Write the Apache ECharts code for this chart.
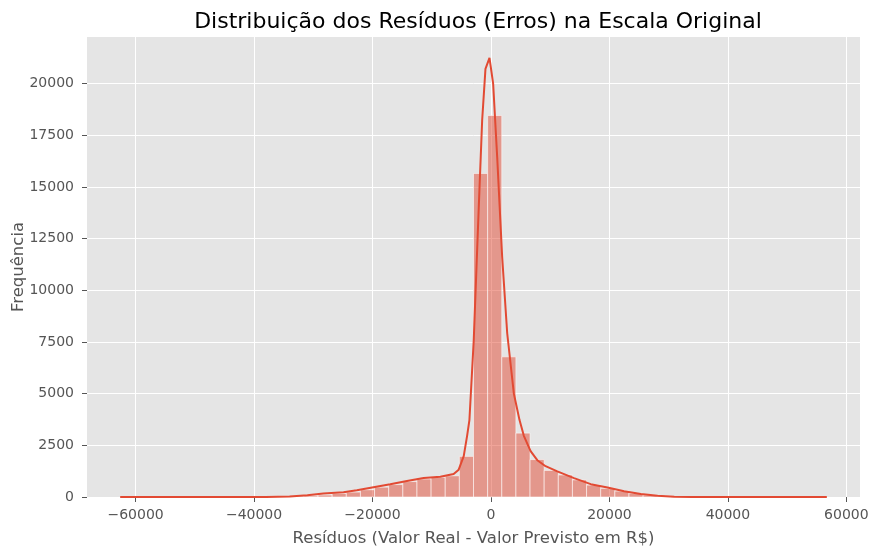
<!DOCTYPE html>
<html>
<head>
<meta charset="utf-8">
<script src="https://cdn.jsdelivr.net/npm/echarts@6/dist/echarts.min.js"></script>
<style>
  html, body { margin: 0; padding: 0; background: #fff; }
  #chart { width: 879px; height: 553px; }
</style>
</head>
<body>
<div id="chart"></div>
<script>
// histograma dos resíduos: 50 bins
const histMin = -62600;
const binWidth = 2386;
const counts = [
  0, 0, 0, 0, 0, 1, 1, 2, 3, 5,
  10, 18, 35, 55, 95, 170, 238, 350, 475, 600,
  745, 870, 952, 1025, 1965, 15650, 18450, 6780, 3090, 1810,
  1285, 1065, 828, 575, 418, 287, 180, 92, 35, 15,
  7, 3, 2, 1, 1, 0, 0, 0, 0, 1
];

// curva KDE
const kdeX = [
  -62600, -50000, -42000, -38000, -34000, -31000, -28300, -24900, -22650, -19830,
  -17010, -14190, -11370, -8550, -6300, -5450, -4600, -4030, -3640, -2910,
  -2060, -1490, -930, -250, 370, 1050, 1890, 2740, 3860, 4820,
  5550, 6690, 7820, 9220, 11200, 14020, 16840, 19670, 22480, 25300,
  28130, 30940, 34000, 40000, 56700
];
const kdeY = [
  0, 0, 1, 5, 30, 90, 165, 230, 330, 475,
  620, 770, 915, 980, 1110, 1320, 1980, 2960, 3720, 7585,
  14020, 18210, 20710, 21240, 19980, 16440, 11610, 7920, 5010, 3720,
  2960, 2220, 1780, 1490, 1240, 915, 620, 460, 280, 147,
  65, 16, 5, 1, 0
];

const xTicks = [-60000, -40000, -20000, 0, 20000, 40000, 60000];
const yTicks = [0, 2500, 5000, 7500, 10000, 12500, 15000, 17500, 20000];

const barData = counts.map((c, i) => [histMin + i * binWidth, histMin + (i + 1) * binWidth, c]);
const kdeData = kdeX.map((x, i) => [x, kdeY[i]]);

const chart = echarts.init(document.getElementById('chart'));

const tickText = { color: '#555555', fontSize: 14, fontFamily: 'DejaVu Sans' };
const nameText = { color: '#555555', fontSize: 16.5, fontFamily: 'DejaVu Sans' };

chart.setOption({
  animation: false,
  backgroundColor: '#ffffff',
  title: {
    text: 'Distribuição dos Resíduos (Erros) na Escala Original',
    left: 473, textAlign: 'center', top: 6,
    textStyle: { fontFamily: 'DejaVu Sans', fontSize: 22, fontWeight: 'normal', color: '#000' }
  },
  grid: {
    left: 87, right: 19, top: 37, bottom: 56,
    containLabel: false, outerBoundsMode: 'none',
    show: true, backgroundColor: '#E5E5E5', borderWidth: 0
  },
  xAxis: {
    type: 'value', min: -68200, max: 62300,
    name: 'Resíduos (Valor Real - Valor Previsto em R$)',
    nameLocation: 'middle', nameGap: 33, nameMoveOverlap: false,
    nameTextStyle: nameText,
    axisLine: { show: false, onZero: false },
    axisTick: { show: true, customValues: xTicks, length: 5, lineStyle: { color: '#555555' } },
    axisLabel: Object.assign({ customValues: xTicks, margin: 11,
      formatter: v => (v < 0 ? '\u2212' + Math.abs(v) : String(v)) }, tickText),
    splitLine: { show: true, lineStyle: { color: '#ffffff', width: 1 } }
  },
  yAxis: {
    type: 'value', min: 0, max: 22250,
    name: 'Frequência',
    nameLocation: 'middle', nameGap: 60, nameMoveOverlap: false,
    nameTextStyle: nameText,
    axisLine: { show: false, onZero: false },
    axisTick: { show: true, customValues: yTicks, length: 5, lineStyle: { color: '#555555' } },
    axisLabel: Object.assign({ customValues: yTicks, margin: 13, formatter: v => String(v) }, tickText),
    splitLine: { show: true, lineStyle: { color: '#ffffff', width: 1 } }
  },
  series: [
    {
      type: 'custom',
      data: barData,
      encode: { x: [0, 1], y: 2 },
      renderItem: (params, api) => {
        const p0 = api.coord([api.value(0), api.value(2)]);
        const p1 = api.coord([api.value(1), 0]);
        return {
          type: 'rect',
          shape: { x: p0[0], y: p0[1], width: p1[0] - p0[0], height: p1[1] - p0[1] },
          style: { fill: 'rgba(226,74,51,0.5)', stroke: 'rgba(255,255,255,0.55)', lineWidth: 1 }
        };
      },
      z: 2
    },
    {
      type: 'line',
      data: kdeData,
      showSymbol: false,
      smooth: false,
      lineStyle: { color: '#E24A33', width: 2 },
      z: 3
    }
  ]
});
</script>
</body>
</html>
